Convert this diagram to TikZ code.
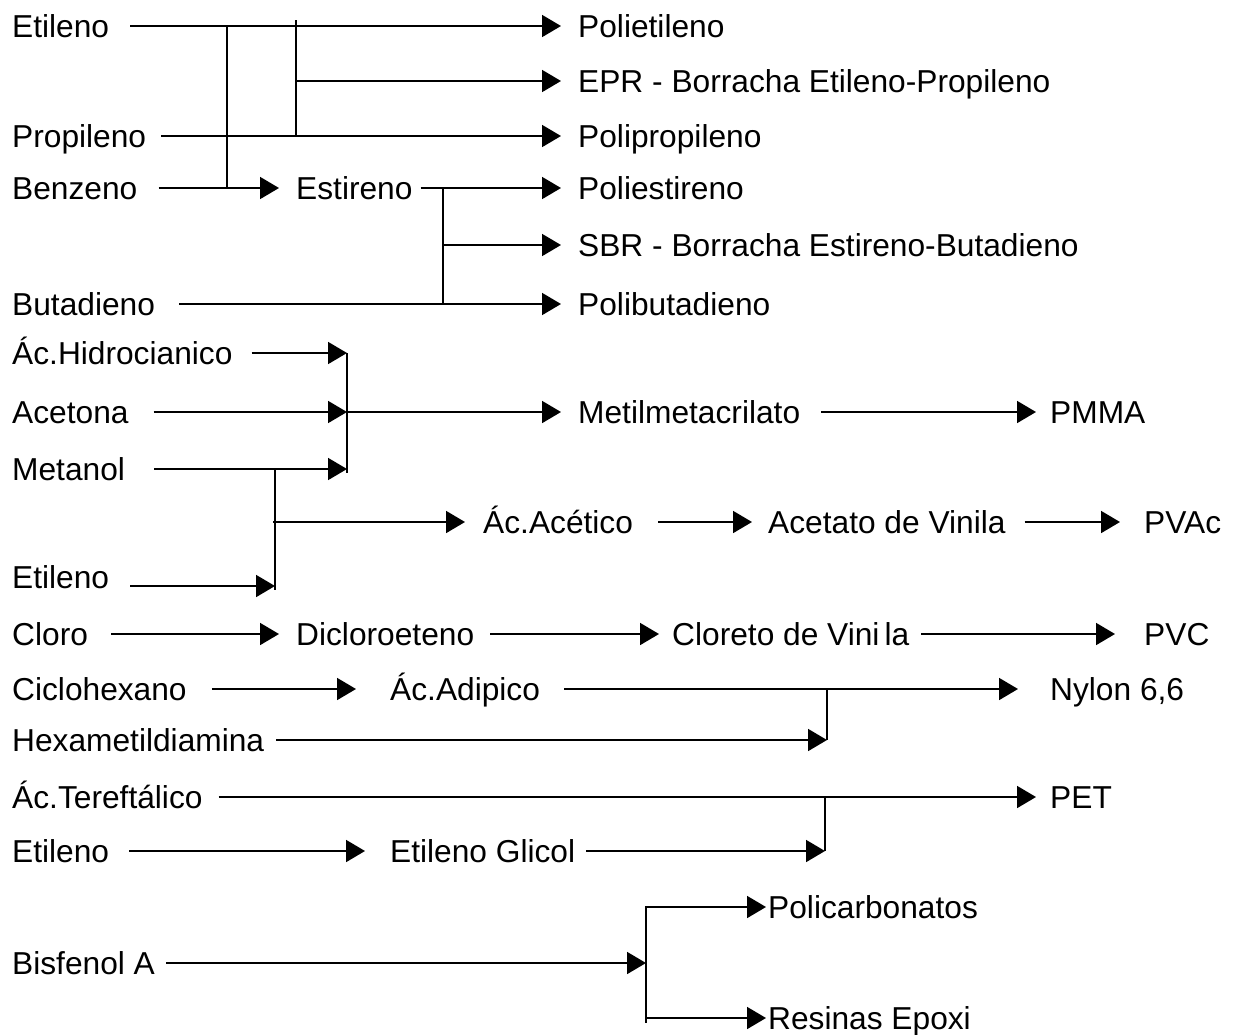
\documentclass[tikz,border=0pt]{standalone}
\usepackage{fontspec}
\setmainfont{Liberation Sans}
\usetikzlibrary{arrows.meta}

\begin{document}
\begin{tikzpicture}[x=1pt,y=-1pt,
    lbl/.style={anchor=west,inner sep=0pt,text height=22pt,text depth=0pt,font=\fontsize{31.7pt}{37pt}\selectfont},
    ln/.style={line width=1.8pt},
    arr/.style={ln,-{Triangle[length=19pt,width=22pt]}}]
    \useasboundingbox (0,0) rectangle (1236,1034);
    % raw materials
    \node[lbl] (etil1) at (12,26) {Etileno};
    \node[lbl] (prop) at (12,136) {Propileno};
    \node[lbl] (benz) at (12,188) {Benzeno};
    \node[lbl] (butad) at (12,304) {Butadieno};
    \node[lbl] (hcn) at (12,353) {Ác.Hidrocianico};
    \node[lbl] (acet) at (12,412) {Acetona};
    \node[lbl] (metn) at (12,469) {Metanol};
    \node[lbl] (etil2) at (12,577) {Etileno};
    \node[lbl] (clor) at (12,634) {Cloro};
    \node[lbl] (cicl) at (12,689) {Ciclohexano};
    \node[lbl] (hexa) at (12,740) {Hexametildiamina};
    \node[lbl] (tere) at (12,797) {Ác.Tereftálico};
    \node[lbl] (etil3) at (12,851) {Etileno};
    \node[lbl] (bisf) at (12,963) {Bisfenol A};
    % intermediates and products
    \node[lbl] (pe) at (578,26) {Polietileno};
    \node[lbl] (epr) at (578,81) {EPR - Borracha Etileno-Propileno};
    \node[lbl] (pp) at (578,136) {Polipropileno};
    \node[lbl] (estir) at (296,188) {Estireno};
    \node[lbl] (ps) at (578,188) {Poliestireno};
    \node[lbl] (sbr) at (578,245) {SBR - Borracha Estireno-Butadieno};
    \node[lbl] (pb) at (578,304) {Polibutadieno};
    \node[lbl] (mma) at (578,412) {Metilmetacrilato};
    \node[lbl] (pmma) at (1050,412) {PMMA};
    \node[lbl] (acac) at (483,522) {Ác.Acético};
    \node[lbl] (avin) at (768,522) {Acetato de Vinila};
    \node[lbl] (pvac) at (1144,522) {PVAc};
    \node[lbl] (dicl) at (296,634) {Dicloroeteno};
    \node[lbl] (cvin) at (672,634) {Cloreto de Vini\hspace{5pt}la};
    \node[lbl] (pvc) at (1144,634) {PVC};
    \node[lbl] (adip) at (390,689) {Ác.Adipico};
    \node[lbl] (nylon) at (1050,689) {Nylon 6,6};
    \node[lbl] (pet) at (1050,797) {PET};
    \node[lbl] (eg) at (390,851) {Etileno Glicol};
    \node[lbl] (pc) at (768,907) {Policarbonatos};
    \node[lbl] (epox) at (768,1018) {Resinas Epoxi};
    % junctions
    \coordinate (j1) at (227,26);
    \coordinate (j2) at (296,20);
    \coordinate (j3) at (443,188);
    \coordinate (j4) at (347,353);
    \coordinate (j5) at (275,469);
    \coordinate (j6) at (827,689);
    \coordinate (j7) at (825,797);
    \coordinate (j8) at (646,906);

    \draw[arr] ([xshift=21pt]etil1.east) -- ([xshift=-17pt]pe.west);
    \draw[ln] (j1) -- (j1 |- benz.east);
    \draw[ln] (j2) -- (j2 |- prop.east);
    \draw[arr] (j2 |- epr.west) -- ([xshift=-17pt]epr.west);
    \draw[arr] ([xshift=15pt]prop.east) -- ([xshift=-17pt]pp.west);
    \draw[arr] ([xshift=21pt]benz.east) -- ([xshift=-17pt]estir.west);
    \draw[arr] ([xshift=8pt]estir.east) -- ([xshift=-17pt]ps.west);
    \draw[ln] (j3) -- (j3 |- butad.east);
    \draw[arr] (j3 |- sbr.west) -- ([xshift=-17pt]sbr.west);
    \draw[arr] ([xshift=24pt]butad.east) -- ([xshift=-17pt]pb.west);

    \draw[arr] ([xshift=19pt]hcn.east) -- (j4);
    \draw[arr] ([xshift=25pt]acet.east) -- (j4 |- acet.east);
    \draw[arr] ([xshift=29pt]metn.east) -- (j4 |- metn.east);
    \draw[ln] (j4) -- ([yshift=-4pt]j4 |- metn.east);
    \draw[arr] (j4 |- acet.east) -- ([xshift=-17pt]mma.west);
    \draw[arr] ([xshift=21pt]mma.east) -- ([xshift=-14pt]pmma.west);

    \draw[arr] ([xshift=21pt,yshift=-9pt]etil2.east) coordinate (e2s) -- (j5 |- e2s);
    \draw[ln] (j5) -- ([yshift=-4pt]j5 |- e2s);
    \draw[arr] ([xshift=-2pt]j5 |- acac.west) -- ([xshift=-18pt]acac.west);
    \draw[arr] ([xshift=25pt]acac.east) -- ([xshift=-16pt]avin.west);
    \draw[arr] ([xshift=19pt]avin.east) -- ([xshift=-24pt]pvac.west);

    \draw[arr] ([xshift=23pt]clor.east) -- ([xshift=-17pt]dicl.west);
    \draw[arr] ([xshift=16pt]dicl.east) -- ([xshift=-13pt]cvin.west);
    \draw[arr] ([xshift=12pt]cvin.east) -- ([xshift=-29pt]pvc.west);

    \draw[arr] ([xshift=25pt]cicl.east) -- ([xshift=-34pt]adip.west);
    \draw[arr] ([xshift=24pt]adip.east) -- ([xshift=-32pt]nylon.west);
    \draw[ln] (j6) -- (j6 |- hexa.east);
    \draw[arr] ([xshift=12pt]hexa.east) -- (j6 |- hexa.east);

    \draw[arr] ([xshift=16pt]tere.east) -- ([xshift=-14pt]pet.west);
    \draw[ln] (j7) -- (j7 |- eg.east);
    \draw[arr] ([xshift=20pt]etil3.east) -- ([xshift=-25pt]eg.west);
    \draw[arr] ([xshift=11pt]eg.east) -- (j7 |- eg.east);

    \draw[arr] ([xshift=11pt]bisf.east) -- (j8 |- bisf.east);
    \draw[ln] (j8) -- ([yshift=-5pt]j8 |- epox.west);
    \draw[arr] (j8 |- pc.west) -- ([xshift=-2pt]pc.west);
    \draw[arr] (j8 |- epox.west) -- ([xshift=-2pt]epox.west);
\end{tikzpicture}
\end{document}
